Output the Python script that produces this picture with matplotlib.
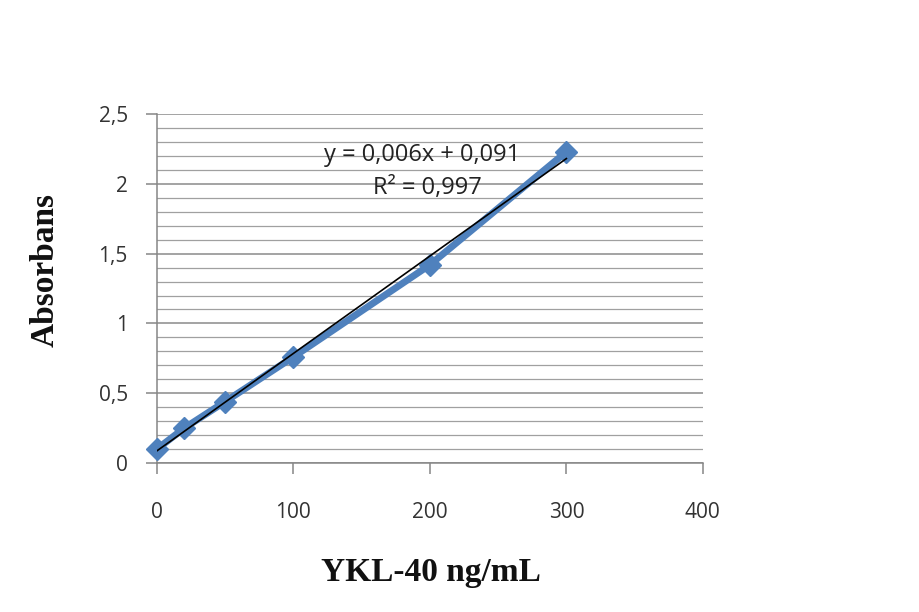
import numpy as np
import matplotlib
matplotlib.use("Agg")
import matplotlib.pyplot as plt
from matplotlib.ticker import MultipleLocator, FuncFormatter

conc = [0, 20, 50, 100, 200, 300]
absorb = [0.10, 0.25, 0.44, 0.76, 1.42, 2.23]
x_ticks = [0, 100, 200, 300, 400]
y_ticks = [0, 0.5, 1, 1.5, 2, 2.5]
eq_text = "y = 0,006x + 0,091"
r2_text = "R² = 0,997"
x_label = "YKL-40 ng/mL"
y_label = "Absorbans"

blue = "#4F81BD"
fig = plt.figure(figsize=(9.19, 6.12), dpi=100)
ax = fig.add_axes([0.1708, 0.2435, 0.594, 0.570])

ax.set_xlim(0, 400)
ax.set_ylim(0, 2.5)
ax.set_xticks(x_ticks)
ax.set_yticks(y_ticks)
ax.yaxis.set_minor_locator(MultipleLocator(0.1))
fmt = FuncFormatter(lambda v, p: ("%g" % v).replace(".", ","))
ax.yaxis.set_major_formatter(fmt)
ax.xaxis.set_major_formatter(fmt)

ax.grid(True, which="major", axis="y", color="#8a8a8a", lw=1.1)
ax.grid(True, which="minor", axis="y", color="#a0a0a0", lw=0.9)
ax.set_axisbelow(True)

for s in ["top", "right"]:
    ax.spines[s].set_visible(False)
for s in ["left", "bottom"]:
    ax.spines[s].set_color("#868686")
    ax.spines[s].set_linewidth(1.1)

ax.tick_params(axis="both", which="major", direction="out", length=8,
               color="#868686", labelsize=15, labelcolor="#333333", width=1.1)
ax.tick_params(axis="y", which="minor", length=0)
ax.tick_params(axis="x", pad=20)
ax.tick_params(axis="y", pad=13)
for lab in ax.get_xticklabels() + ax.get_yticklabels():
    lab.set_fontfamily("Open Sans")

ax.plot(conc, absorb, color=blue, lw=5, marker="D", markersize=11,
        markeredgecolor=blue, zorder=3, clip_on=False)

k, b = np.polyfit(conc, absorb, 1)
xs = np.array([conc[0], conc[-1]])
ax.plot(xs, k * xs + b, color="black", lw=1.2, zorder=4)

ax.text(194, 2.21, eq_text, ha="center", va="center", fontsize=17,
        family="Open Sans", color="#222222", zorder=5)
ax.text(198, 1.97, r2_text, ha="center", va="center", fontsize=17,
        family="Open Sans", color="#222222", zorder=5)

fig.text(431 / 919, 1 - 572 / 612, x_label, ha="center", va="center",
         fontsize=24, fontweight="bold", family="Liberation Serif", color="#111111")
fig.text(45 / 919, 1 - 270 / 612, y_label, ha="center", va="center",
         rotation=90, fontsize=24, fontweight="bold", family="Liberation Serif",
         color="#111111")

fig.savefig("out.png", dpi=100)
